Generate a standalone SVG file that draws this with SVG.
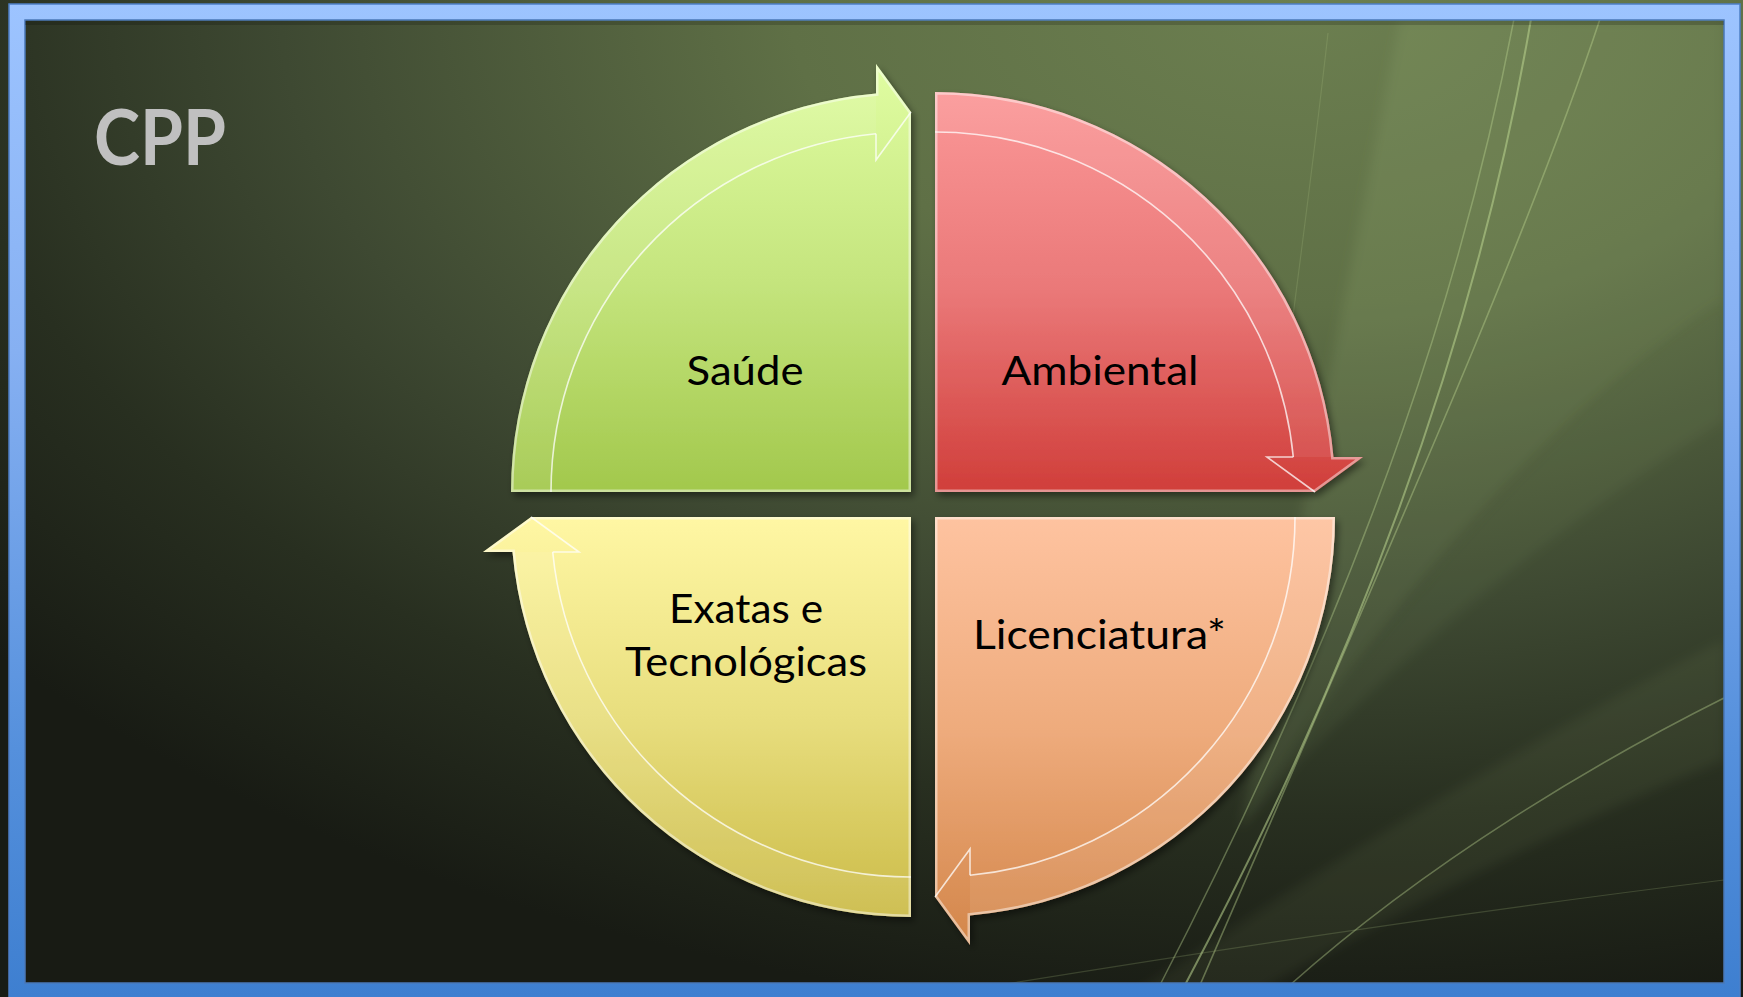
<svg xmlns="http://www.w3.org/2000/svg" width="1743" height="997" viewBox="0 0 1743 997">
  <defs>
    <style>
      .lbl { font-family: Lato, "Liberation Sans", sans-serif; font-size: 41px; fill: #000; text-anchor: middle; }
      .title { font-family: Lato, "Liberation Sans", sans-serif; font-size: 77px; font-weight: bold; fill: #c0c0c0; }
      .hl { fill: none; stroke: #ffffff; stroke-width: 1.6; stroke-opacity: 0.75; }
      .rim { fill: none; stroke: #ffffff; stroke-width: 5; stroke-opacity: 0.45; }
      .band { fill: #ffffff; fill-opacity: 0.07; }
      .streak { fill: none; stroke: #bcd590; }
    </style>

    <!-- backdrop -->
    <radialGradient id="bg" gradientUnits="userSpaceOnUse" cx="1300" cy="0" r="1700"
                    gradientTransform="translate(1300 0) scale(1 0.6) translate(-1300 0)">
      <stop offset="0" stop-color="#6c7f50"/>
      <stop offset="0.3" stop-color="#5f7046"/>
      <stop offset="0.6" stop-color="#3e4932"/>
      <stop offset="0.8" stop-color="#282f20"/>
      <stop offset="1" stop-color="#181b14"/>
    </radialGradient>
    <linearGradient id="frameGrad" gradientUnits="userSpaceOnUse" x1="0" y1="4" x2="0" y2="997">
      <stop offset="0" stop-color="#9dc4ff"/>
      <stop offset="0.35" stop-color="#86b0f2"/>
      <stop offset="0.75" stop-color="#5590dc"/>
      <stop offset="1" stop-color="#3e7fd0"/>
    </linearGradient>
    <filter id="soft" x="-10%" y="-10%" width="120%" height="120%">
      <feGaussianBlur stdDeviation="6"/>
    </filter>
    <filter id="shadow" x="-10%" y="-10%" width="125%" height="125%">
      <feDropShadow dx="3" dy="4" stdDeviation="3.5" flood-color="#000000" flood-opacity="0.45"/>
    </filter>

    <!-- quadrant fills -->
    <linearGradient id="gGreen" gradientUnits="userSpaceOnUse" x1="0" y1="64" x2="0" y2="492">
      <stop offset="0" stop-color="#e0fda2"/>
      <stop offset="0.5" stop-color="#c5e57e"/>
      <stop offset="1" stop-color="#a2c84c"/>
    </linearGradient>
    <linearGradient id="gRed" gradientUnits="userSpaceOnUse" x1="0" y1="92" x2="0" y2="492">
      <stop offset="0" stop-color="#fb9898"/>
      <stop offset="0.5" stop-color="#ea7878"/>
      <stop offset="1" stop-color="#d03e3a"/>
    </linearGradient>
    <linearGradient id="gOrange" gradientUnits="userSpaceOnUse" x1="0" y1="517" x2="0" y2="945">
      <stop offset="0" stop-color="#fec3a0"/>
      <stop offset="0.5" stop-color="#eeab7c"/>
      <stop offset="1" stop-color="#d3864a"/>
    </linearGradient>
    <linearGradient id="gYellow" gradientUnits="userSpaceOnUse" x1="0" y1="517" x2="0" y2="917">
      <stop offset="0" stop-color="#fff7a4"/>
      <stop offset="0.5" stop-color="#e8de7e"/>
      <stop offset="1" stop-color="#cbbb48"/>
    </linearGradient>

    <!-- quadrant outlines: radius 400, band 40, head 35 long, 96 wide -->
    <path id="shapeGreen" d="M511,492 A400,400 0 0,1 876,93.53 L876,64 L911,112 L911,492 Z"/>
    <path id="shapeRed" d="M935,92 A400,400 0 0,1 1333.47,457 L1363,457 L1315,492 L935,492 Z"/>
    <path id="shapeOrange" d="M935,517 L1335,517 A400,400 0 0,1 970,915.47 L970,945 L935,897 Z"/>
    <path id="shapeYellow" d="M911,517 L911,917 A400,400 0 0,1 512.53,552 L483,552 L531,517 Z"/>
    <clipPath id="clipGreen"><use href="#shapeGreen"/></clipPath>
    <clipPath id="clipRed"><use href="#shapeRed"/></clipPath>
    <clipPath id="clipOrange"><use href="#shapeOrange"/></clipPath>
    <clipPath id="clipYellow"><use href="#shapeYellow"/></clipPath>
  </defs>

  <!-- backdrop -->
  <rect x="0" y="0" width="1743" height="997" fill="url(#bg)"/>
  <g id="backdrop-streaks">
    <path d="M1400,20 L1724,20 L1724,300 Q1480,460 1240,830 Q1320,420 1400,20 Z" fill="#a8c27c" fill-opacity="0.14" filter="url(#soft)"/>
    <path d="M1724,300 L1724,420 Q1500,560 1300,760 L1240,830 Q1480,470 1724,300 Z" fill="#a8c27c" fill-opacity="0.07" filter="url(#soft)"/>
    <path d="M1724,640 L1724,760 Q1500,850 1250,997 L1130,997 Q1450,780 1724,640 Z" fill="#a8c27c" fill-opacity="0.08" filter="url(#soft)"/>
    <path class="streak" d="M1514,19 C1470,250 1380,560 1160,985" stroke-width="1.5" stroke-opacity="0.4"/>
    <path class="streak" d="M1531,19 C1490,260 1400,580 1185,985" stroke-width="2" stroke-opacity="0.55"/>
    <path class="streak" d="M1600,19 C1530,230 1410,500 1200,985" stroke-width="1.6" stroke-opacity="0.42"/>
    <path class="streak" d="M1724,698 C1600,760 1430,860 1290,985" stroke-width="1.6" stroke-opacity="0.4"/>
    <path class="streak" d="M1724,880 Q1400,920 1000,985" stroke-width="1.2" stroke-opacity="0.2"/>
    <path class="streak" d="M1328,33 C1315,150 1300,260 1290,340" stroke-width="1.2" stroke-opacity="0.18"/>
  </g>

  <!-- frame -->
  <g id="frame">
    <rect x="17" y="12" width="1715" height="979" fill="none" stroke="url(#frameGrad)" stroke-width="16"/>
    <rect x="9" y="4" width="1731" height="1000" fill="none" stroke="#4d7fc6" stroke-width="1.5"/>
    <rect x="25" y="20" width="1699" height="963" fill="none" stroke="#4a78b8" stroke-width="1.5"/>
    <rect x="25" y="21" width="1699" height="4" fill="#000000" fill-opacity="0.18"/>
  </g>

  <text id="title" class="title" x="94" y="165" textLength="132" lengthAdjust="spacingAndGlyphs">CPP</text>

  <!-- top-left: Saúde -->
  <g id="node-saude">
    <use href="#shapeGreen" fill="url(#gGreen)" filter="url(#shadow)"/>
    <path class="band" d="M511,492 A400,400 0 0,1 876,93.53 L876,133.71 A360,360 0 0,0 551,492 Z"/>
    <use href="#shapeGreen" class="rim" clip-path="url(#clipGreen)"/>
    <path class="hl" d="M551,492 A360,360 0 0,1 876,133.71"/>
    <path class="hl" d="M876,133.71 L876,160 L911,112" stroke-opacity="0.55"/>
    <text class="lbl" x="745" y="385" textLength="117" lengthAdjust="spacingAndGlyphs">Saúde</text>
  </g>

  <!-- top-right: Ambiental -->
  <g id="node-ambiental">
    <use href="#shapeRed" fill="url(#gRed)" filter="url(#shadow)"/>
    <path class="band" d="M935,92 A400,400 0 0,1 1333.47,457 L1293.29,457 A360,360 0 0,0 935,132 Z"/>
    <use href="#shapeRed" class="rim" clip-path="url(#clipRed)"/>
    <path class="hl" d="M935,132 A360,360 0 0,1 1293.29,457"/>
    <path class="hl" d="M1293.29,457 L1267,457 L1315,492" stroke-opacity="0.6"/>
    <text class="lbl" x="1100" y="385" textLength="197" lengthAdjust="spacingAndGlyphs">Ambiental</text>
  </g>

  <!-- bottom-right: Licenciatura* -->
  <g id="node-licenciatura">
    <use href="#shapeOrange" fill="url(#gOrange)" filter="url(#shadow)"/>
    <path class="band" d="M1335,517 A400,400 0 0,1 970,915.47 L970,875.29 A360,360 0 0,0 1295,517 Z"/>
    <use href="#shapeOrange" class="rim" clip-path="url(#clipOrange)"/>
    <path class="hl" d="M1295,517 A360,360 0 0,1 970,875.29" stroke-opacity="0.3"/>
    <path class="hl" d="M970,875.29 L970,849 L935,897" stroke-opacity="0.6"/>
    <text class="lbl" x="1099.5" y="649" textLength="253" lengthAdjust="spacingAndGlyphs">Licenciatura*</text>
  </g>

  <!-- bottom-left: Exatas e Tecnológicas -->
  <g id="node-exatas">
    <use href="#shapeYellow" fill="url(#gYellow)" filter="url(#shadow)"/>
    <path class="band" d="M911,917 A400,400 0 0,1 512.53,552 L552.71,552 A360,360 0 0,0 911,877 Z"/>
    <use href="#shapeYellow" class="rim" clip-path="url(#clipYellow)"/>
    <path class="hl" d="M911,877 A360,360 0 0,1 552.71,552"/>
    <path class="hl" d="M552.71,552 L579,552 L531,517" stroke-opacity="0.6"/>
    <text class="lbl" x="746" y="623" textLength="154" lengthAdjust="spacingAndGlyphs">Exatas e</text>
    <text class="lbl" x="746" y="676" textLength="242" lengthAdjust="spacingAndGlyphs">Tecnológicas</text>
  </g>
</svg>
